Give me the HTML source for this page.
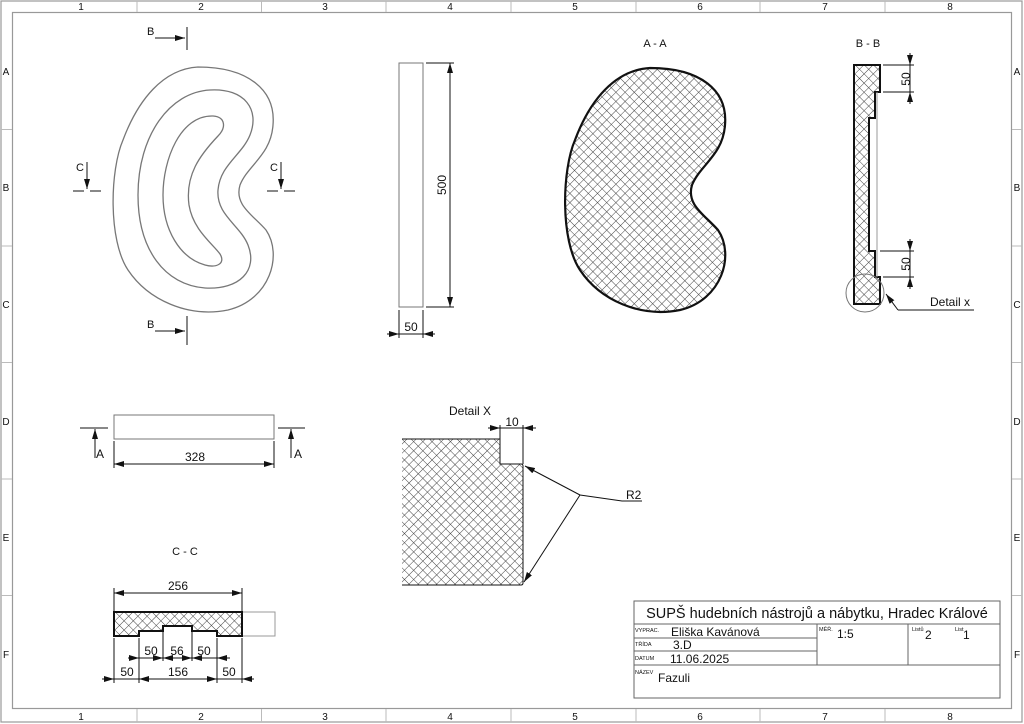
<!DOCTYPE html>
<html><head><meta charset="utf-8"><style>
html,body{margin:0;padding:0;background:#fff}
svg{display:block}
text{font-family:"Liberation Sans",sans-serif;fill:#111}
</style></head><body>
<svg width="1024" height="724" viewBox="0 0 1024 724" xmlns="http://www.w3.org/2000/svg">
<defs>
<pattern id="h" width="6.5" height="6.5" patternUnits="userSpaceOnUse" patternTransform="rotate(45)">
<line x1="0" y1="0" x2="0" y2="6.5" stroke="#444" stroke-width="1"/>
<line x1="0" y1="0" x2="6.5" y2="0" stroke="#444" stroke-width="1"/>
</pattern>
<marker id="a" viewBox="0 0 10 6" refX="10" refY="3" markerWidth="10" markerHeight="6" markerUnits="userSpaceOnUse" orient="auto-start-reverse"><path d="M0,0 L10,3 L0,6 Z" fill="#111"/></marker>
</defs>
<rect x="1" y="1" width="1021" height="721" fill="none" stroke="#999" stroke-width="1.2"/>
<rect x="12.5" y="12.5" width="999" height="696" fill="none" stroke="#999" stroke-width="1.2"/>
<g stroke="#bbb" stroke-width="1">
<line x1="137" y1="1" x2="137" y2="12"/><line x1="261.5" y1="1" x2="261.5" y2="12"/><line x1="386" y1="1" x2="386" y2="12"/><line x1="511" y1="1" x2="511" y2="12"/><line x1="636" y1="1" x2="636" y2="12"/><line x1="760" y1="1" x2="760" y2="12"/><line x1="885" y1="1" x2="885" y2="12"/>
<line x1="137" y1="709" x2="137" y2="722"/><line x1="261.5" y1="709" x2="261.5" y2="722"/><line x1="386" y1="709" x2="386" y2="722"/><line x1="511" y1="709" x2="511" y2="722"/><line x1="636" y1="709" x2="636" y2="722"/><line x1="760" y1="709" x2="760" y2="722"/><line x1="885" y1="709" x2="885" y2="722"/>
<line x1="1" y1="129.5" x2="12" y2="129.5"/><line x1="1" y1="246" x2="12" y2="246"/><line x1="1" y1="362.5" x2="12" y2="362.5"/><line x1="1" y1="479" x2="12" y2="479"/><line x1="1" y1="595.5" x2="12" y2="595.5"/>
<line x1="1012" y1="129.5" x2="1022" y2="129.5"/><line x1="1012" y1="246" x2="1022" y2="246"/><line x1="1012" y1="362.5" x2="1022" y2="362.5"/><line x1="1012" y1="479" x2="1022" y2="479"/><line x1="1012" y1="595.5" x2="1022" y2="595.5"/>
</g>
<g font-size="10" text-anchor="middle">
<text x="81" y="10">1</text><text x="201" y="10">2</text><text x="325" y="10">3</text><text x="450" y="10">4</text><text x="575" y="10">5</text><text x="700" y="10">6</text><text x="825" y="10">7</text><text x="950" y="10">8</text>
<text x="81" y="720">1</text><text x="201" y="720">2</text><text x="325" y="720">3</text><text x="450" y="720">4</text><text x="575" y="720">5</text><text x="700" y="720">6</text><text x="825" y="720">7</text><text x="950" y="720">8</text>
<text x="6" y="75">A</text><text x="6" y="191">B</text><text x="6" y="308">C</text><text x="6" y="425">D</text><text x="6" y="541">E</text><text x="6" y="658">F</text>
<text x="1017" y="75">A</text><text x="1017" y="191">B</text><text x="1017" y="308">C</text><text x="1017" y="425">D</text><text x="1017" y="541">E</text><text x="1017" y="658">F</text>
</g>

<g fill="none" stroke="#777" stroke-width="1.3">
<path d="M198,67 C248,67 276,90 273,125 C271,155 248,165 240,185 C234,205 253,215 266,230 C283,255 270,300 228,310 C188,318 148,300 128,270 C108,240 110,170 123,140 C138,100 163,69 198,67 Z"/>
<path d="M210,90 C245,88 260,110 250,135 C242,155 220,165 218,190 C216,215 240,225 248,245 C258,270 240,290 205,288 C165,285 138,250 138,195 C138,135 170,92 210,90 Z"/>
<path d="M213,116 C226,117 226,128 218,136 C200,155 185,175 189,205 C193,230 213,244 220,254 C226,264 216,268 205,265 C180,258 163,230 163,195 C163,160 180,115 213,116 Z"/>
</g>
<g stroke="#111" stroke-width="1" fill="none">
<line x1="187" y1="27" x2="187" y2="50"/><line x1="155" y1="38" x2="185" y2="38" marker-end="url(#a)"/>
<line x1="187" y1="316" x2="187" y2="345"/><line x1="155" y1="331" x2="185" y2="331" marker-end="url(#a)"/>
<line x1="73" y1="191" x2="84" y2="191"/><line x1="90" y1="191" x2="101" y2="191"/><line x1="87" y1="162" x2="87" y2="189" marker-end="url(#a)"/>
<line x1="267" y1="191" x2="278" y2="191"/><line x1="284" y1="191" x2="295" y2="191"/><line x1="281" y1="162" x2="281" y2="189" marker-end="url(#a)"/>
</g>
<g font-size="11"><text x="147" y="35">B</text><text x="147" y="328">B</text><text x="76" y="171">C</text><text x="270" y="171">C</text></g>

<rect x="399" y="63" width="24" height="244" fill="none" stroke="#777" stroke-width="1"/>
<g stroke="#111" stroke-width="1" fill="none">
<line x1="426" y1="63" x2="454" y2="63"/><line x1="426" y1="307" x2="454" y2="307"/>
<line x1="450" y1="63" x2="450" y2="307" marker-start="url(#a)" marker-end="url(#a)"/>
<line x1="399" y1="310" x2="399" y2="338"/><line x1="423" y1="310" x2="423" y2="338"/>
<line x1="387" y1="334" x2="399" y2="334" marker-end="url(#a)"/><line x1="435" y1="334" x2="423" y2="334" marker-end="url(#a)"/><line x1="399" y1="334" x2="423" y2="334"/>
</g>
<text x="446" y="185" font-size="12" text-anchor="middle" transform="rotate(-90 446 185)">500</text>
<text x="411" y="331" font-size="12" text-anchor="middle">50</text>

<text x="655" y="47" font-size="11" text-anchor="middle">A - A</text>
<path d="M650,68 C700,68 728,90 725,125 C723,155 700,165 692,185 C686,205 705,215 718,230 C735,255 722,300 680,310 C640,318 600,300 580,270 C560,240 562,170 575,140 C590,100 615,70 650,68 Z" fill="url(#h)" stroke="#111" stroke-width="2.2"/>

<text x="868" y="47" font-size="11" text-anchor="middle">B - B</text>
<path d="M854,65 L880,65 L880,92 L875,92 L875,118 L869,118 L869,251 L875,251 L875,277 L880,277 L880,304 L854,304 Z" fill="url(#h)" stroke="#111" stroke-width="2"/>
<line x1="877" y1="92" x2="877" y2="277" stroke="#999" stroke-width="1"/>
<g stroke="#111" stroke-width="1" fill="none">
<line x1="883" y1="65" x2="914" y2="65"/><line x1="883" y1="92" x2="914" y2="92"/>
<line x1="910" y1="53" x2="910" y2="65" marker-end="url(#a)"/><line x1="910" y1="104" x2="910" y2="92" marker-end="url(#a)"/><line x1="910" y1="65" x2="910" y2="92"/>
<line x1="880" y1="251" x2="914" y2="251"/><line x1="883" y1="277" x2="914" y2="277"/>
<line x1="910" y1="239" x2="910" y2="251" marker-end="url(#a)"/><line x1="910" y1="289" x2="910" y2="277" marker-end="url(#a)"/><line x1="910" y1="251" x2="910" y2="277"/>
<circle cx="865" cy="293" r="19" stroke="#777"/>
<polyline points="898,310 974,310"/><line x1="898" y1="310" x2="886" y2="294" marker-end="url(#a)"/>
</g>
<text x="906" y="83" font-size="12" text-anchor="middle" transform="rotate(-90 906 79)">50</text>
<text x="906" y="268" font-size="12" text-anchor="middle" transform="rotate(-90 906 264)">50</text>
<text x="930" y="306" font-size="12">Detail x</text>

<rect x="114" y="415" width="160" height="24" fill="none" stroke="#777" stroke-width="1"/>
<g stroke="#111" stroke-width="1" fill="none">
<line x1="80" y1="428" x2="108" y2="428"/><line x1="95" y1="458" x2="95" y2="429" marker-end="url(#a)"/>
<line x1="278" y1="428" x2="305" y2="428"/><line x1="291" y1="458" x2="291" y2="429" marker-end="url(#a)"/>
<line x1="114" y1="441" x2="114" y2="468"/><line x1="274" y1="441" x2="274" y2="468"/>
<line x1="114" y1="464" x2="274" y2="464" marker-start="url(#a)" marker-end="url(#a)"/>
</g>
<text x="96" y="458" font-size="12">A</text><text x="294" y="458" font-size="12">A</text>
<text x="195" y="461" font-size="12" text-anchor="middle">328</text>

<text x="470" y="415" font-size="12" text-anchor="middle">Detail X</text>
<path d="M402,439 L500,439 L500,464 L521,464 Q523,464 523,466 L523,583 Q523,585 521,585 L402,585 Z" fill="url(#h)" stroke="none"/>
<path d="M402,439 L500,439 L500,464 L521,464 Q523,464 523,466 L523,583 Q523,585 521,585 L402,585" fill="none" stroke="#111" stroke-width="1"/>
<g stroke="#111" stroke-width="1" fill="none">
<line x1="500" y1="425" x2="500" y2="439"/><line x1="523" y1="425" x2="523" y2="464"/>
<line x1="488" y1="428" x2="500" y2="428" marker-end="url(#a)"/><line x1="536" y1="428" x2="523" y2="428" marker-end="url(#a)"/><line x1="500" y1="428" x2="523" y2="428"/>
<line x1="580" y1="495" x2="525" y2="466" marker-end="url(#a)"/><line x1="580" y1="495" x2="524" y2="582" marker-end="url(#a)"/>
<polyline points="580,495 622,501 642,501"/>
</g>
<text x="512" y="426" font-size="12" text-anchor="middle">10</text>
<text x="626" y="499" font-size="12">R2</text>

<text x="185" y="555" font-size="11" text-anchor="middle">C - C</text>
<rect x="242" y="612" width="33" height="24" fill="none" stroke="#999" stroke-width="1"/>
<path d="M114,612 L242,612 L242,636 L217,636 L217,631 L192,631 L192,626 L163,626 L163,631 L139,631 L139,636 L114,636 Z" fill="url(#h)" stroke="#111" stroke-width="2"/>
<g stroke="#111" stroke-width="1" fill="none">
<line x1="114" y1="588" x2="114" y2="612"/><line x1="242" y1="588" x2="242" y2="612"/>
<line x1="114" y1="593" x2="242" y2="593" marker-start="url(#a)" marker-end="url(#a)"/>
<line x1="114" y1="638" x2="114" y2="683"/><line x1="139" y1="638" x2="139" y2="683"/><line x1="163" y1="628" x2="163" y2="661"/><line x1="192" y1="628" x2="192" y2="661"/><line x1="217" y1="638" x2="217" y2="683"/><line x1="242" y1="638" x2="242" y2="683"/>
<line x1="128" y1="658" x2="139" y2="658" marker-end="url(#a)"/><line x1="139" y1="658" x2="163" y2="658" marker-end="url(#a)"/><line x1="163" y1="658" x2="192" y2="658" marker-start="url(#a)" marker-end="url(#a)"/><line x1="217" y1="658" x2="192" y2="658" marker-end="url(#a)"/><line x1="230" y1="658" x2="217" y2="658" marker-end="url(#a)"/>
<line x1="102" y1="679" x2="114" y2="679" marker-end="url(#a)"/><line x1="114" y1="679" x2="139" y2="679"/><line x1="139" y1="679" x2="217" y2="679" marker-start="url(#a)" marker-end="url(#a)"/><line x1="217" y1="679" x2="242" y2="679"/><line x1="254" y1="679" x2="242" y2="679" marker-end="url(#a)"/>
</g>
<g font-size="12" text-anchor="middle">
<text x="178" y="590">256</text>
<text x="151" y="655">50</text><text x="177" y="655">56</text><text x="204" y="655">50</text>
<text x="127" y="676">50</text><text x="178" y="676">156</text><text x="229" y="676">50</text>
</g>

<g stroke="#666" stroke-width="1" fill="none">
<rect x="634" y="601" width="366" height="97"/>
<line x1="634" y1="624" x2="1000" y2="624"/>
<line x1="634" y1="638" x2="817" y2="638"/>
<line x1="634" y1="651" x2="817" y2="651"/>
<line x1="634" y1="665" x2="1000" y2="665"/>
<line x1="817" y1="624" x2="817" y2="665"/>
<line x1="908" y1="624" x2="908" y2="665"/>
</g>
<text x="817" y="618" font-size="14.5" text-anchor="middle">SUPŠ hudebních nástrojů a nábytku, Hradec Králové</text>
<g font-size="5.5"><text x="635" y="632">VYPRAC.</text><text x="635" y="646">TŘÍDA</text><text x="635" y="660">DATUM</text><text x="635" y="674">NÁZEV</text><text x="819" y="631">MĚŘ.</text><text x="912" y="631">Listů</text><text x="955" y="631">List</text></g>
<g font-size="12"><text x="671" y="636">Eliška Kavánová</text><text x="673" y="649">3.D</text><text x="670" y="663">11.06.2025</text><text x="658" y="682">Fazuli</text><text x="837" y="638">1:5</text><text x="925" y="639">2</text><text x="963" y="639">1</text></g>
</svg>
</body></html>
